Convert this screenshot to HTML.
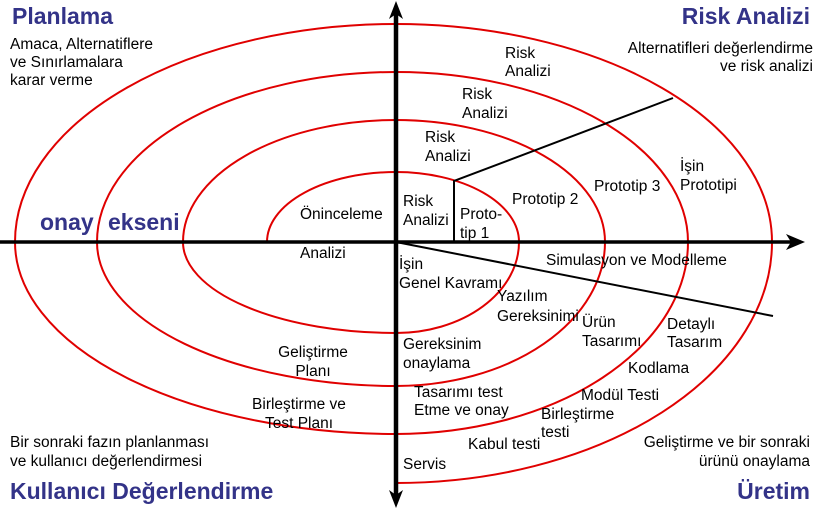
<!DOCTYPE html>
<html><head><meta charset="utf-8"><style>
html,body{margin:0;padding:0;background:#fff;}
svg{display:block;}
text{font-family:"Liberation Sans",Arial,sans-serif;font-size:15.5px;fill:#000;}
.t{font-size:23px;font-weight:bold;fill:#333388;}
</style></head><body>
<svg width="819" height="510" viewBox="0 0 819 510" xmlns="http://www.w3.org/2000/svg">
<path d="M267,242 A129,70 0 0 1 396,172 A123,70 0 0 1 519,242 A123,91 0 0 1 396,333 A213,91 0 0 1 183,242 A213,122 0 0 1 396,120 A209,122 0 0 1 605,242 A209,144 0 0 1 396,386 A299,144 0 0 1 97,242 A299,170 0 0 1 396,72 A292,170 0 0 1 688,242 A292,192 0 0 1 396,434 A381,192 0 0 1 15,242 A381,218 0 0 1 396,24 A376,218 0 0 1 772,242 A376,241 0 0 1 396,483" fill="none" stroke="#e00000" stroke-width="2"/>
<line x1="0" y1="242" x2="795" y2="242" stroke="#000" stroke-width="3.5"/>
<path d="M805,242 L786,234 L791,242 L786,250 Z" fill="#000"/>
<line x1="396" y1="12" x2="396" y2="496" stroke="#000" stroke-width="4.5"/>
<path d="M396,1 L389,19 L396,14 L403,19 Z" fill="#000"/>
<path d="M396,508 L389,490 L396,495 L403,490 Z" fill="#000"/>
<line x1="396" y1="242" x2="773" y2="316" stroke="#000" stroke-width="2"/>
<polyline points="454,242 454,181 673,98" fill="none" stroke="#000" stroke-width="2"/>

<text class="t" x="12" y="24">Planlama</text>
<text class="t" x="810" y="24" text-anchor="end">Risk Analizi</text>
<text class="t" x="40" y="230">onay</text>
<text class="t" x="108" y="230">ekseni</text>
<text class="t" x="10" y="499">Kullanıcı Değerlendirme</text>
<text class="t" x="810" y="499" text-anchor="end">Üretim</text>

<text x="10" y="49">Amaca, Alternatiflere</text>
<text x="10" y="67">ve Sınırlamalara</text>
<text x="10" y="85">karar verme</text>
<text x="813" y="53" text-anchor="end">Alternatifleri değerlendirme</text>
<text x="813" y="71" text-anchor="end">ve risk analizi</text>

<text x="300" y="219">Öninceleme</text>
<text x="300" y="258">Analizi</text>
<text x="505" y="58">Risk</text><text x="505" y="76">Analizi</text>
<text x="462" y="99">Risk</text><text x="462" y="118">Analizi</text>
<text x="425" y="142">Risk</text><text x="425" y="161">Analizi</text>
<text x="403" y="206">Risk</text><text x="403" y="225">Analizi</text>
<text x="460" y="219">Proto-</text><text x="460" y="238">tip 1</text>
<text x="512" y="204">Prototip 2</text>
<text x="594" y="191">Prototip 3</text>
<text x="680" y="171">İşin</text><text x="680" y="190">Prototipi</text>
<text x="546" y="265">Simulasyon ve Modelleme</text>
<text x="399" y="269">İşin</text><text x="399" y="288">Genel Kavramı</text>
<text x="497" y="301">Yazılım</text><text x="497" y="321">Gereksinimi</text>
<text x="582" y="327">Ürün</text><text x="582" y="346">Tasarımı</text>
<text x="667" y="329">Detaylı</text><text x="667" y="347">Tasarım</text>
<text x="628" y="373">Kodlama</text>
<text x="581" y="400">Modül Testi</text>
<text x="541" y="419">Birleştirme</text><text x="541" y="437">testi</text>
<text x="468" y="449">Kabul testi</text>
<text x="403" y="469">Servis</text>
<text x="403" y="349">Gereksinim</text><text x="403" y="368">onaylama</text>
<text x="414" y="397">Tasarımı test</text><text x="414" y="415">Etme ve onay</text>
<text x="313" y="357" text-anchor="middle">Geliştirme</text><text x="313" y="376" text-anchor="middle">Planı</text>
<text x="299" y="409" text-anchor="middle">Birleştirme ve</text><text x="299" y="428" text-anchor="middle">Test Planı</text>
<text x="10" y="447">Bir sonraki fazın planlanması</text>
<text x="10" y="466">ve kullanıcı değerlendirmesi</text>
<text x="810" y="447" text-anchor="end">Geliştirme ve bir sonraki</text>
<text x="810" y="466" text-anchor="end">ürünü onaylama</text>
</svg>
</body></html>
